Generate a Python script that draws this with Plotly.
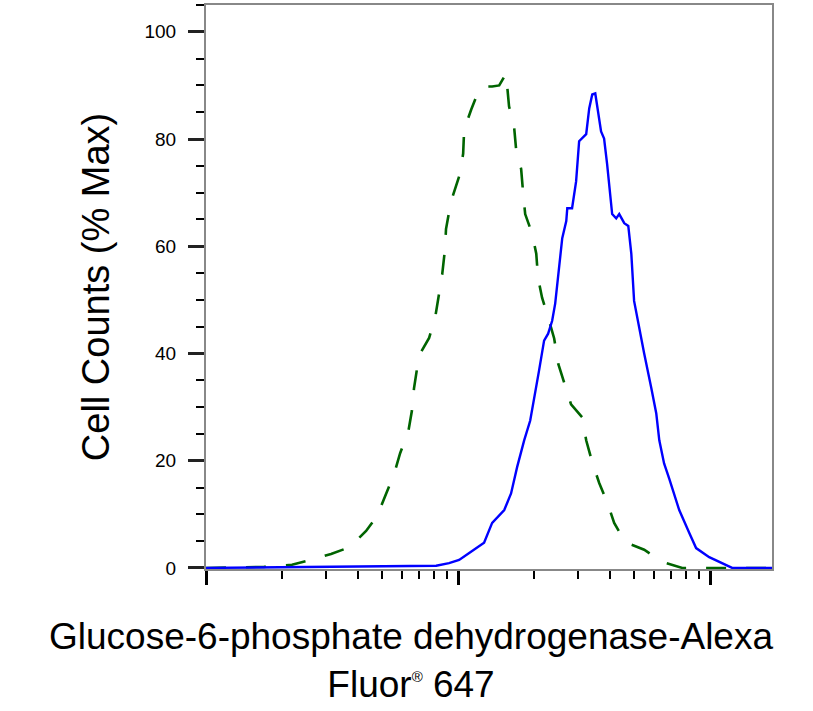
import numpy as np
import plotly.graph_objects as go

# log10 of fluorescence intensity
blue_log = [2.0, 2.913, 2.964, 3.004, 3.044, 3.083, 3.103, 3.135, 3.183, 3.210, 3.234, 3.262,
            3.286, 3.321, 3.341, 3.357, 3.373, 3.385, 3.401, 3.413, 3.429, 3.433, 3.452, 3.468,
            3.480, 3.492, 3.508, 3.520, 3.532, 3.544, 3.552, 3.567, 3.579, 3.591, 3.611, 3.627,
            3.639, 3.659, 3.675, 3.687, 3.698, 3.718, 3.738, 3.766, 3.786, 3.798, 3.817, 3.837,
            3.877, 3.917, 3.944, 3.996, 4.048, 4.087, 4.245]
blue_pct = [0, 0.4, 0.9, 1.5, 2.8, 4.1, 4.7, 8.4, 10.8, 13.9, 18.8, 23.8,
            27.5, 36.8, 42.4, 43.7, 46.1, 49.3, 56.7, 61.5, 64.7, 67.1, 67.1, 72.1,
            79.6, 80.1, 80.9, 85.7, 88.3, 88.5, 85.7, 81.4, 80.1, 75.3, 66.0, 65.2,
            66.0, 64.3, 63.8, 58.6, 49.8, 44.8, 40.0, 33.6, 28.8, 23.8, 19.5, 16.7,
            10.8, 6.5, 3.7, 2.0, 0.9, 0, 0]

green_log = [2.0, 2.230, 2.341, 2.417, 2.496, 2.571, 2.635, 2.679, 2.714, 2.746, 2.770, 2.802,
             2.817, 2.825, 2.845, 2.885, 2.909, 2.925, 2.937, 2.948, 2.952, 2.972, 3.008, 3.020,
             3.024, 3.052, 3.083, 3.111, 3.135, 3.163, 3.190, 3.202, 3.222, 3.230, 3.250, 3.258,
             3.266, 3.294, 3.310, 3.317, 3.333, 3.361, 3.381, 3.397, 3.421, 3.448, 3.492, 3.508,
             3.532, 3.560, 3.591, 3.619, 3.663, 3.738, 3.810, 3.889, 4.245]
green_pct = [0, 0.2, 0.6, 1.5, 2.6, 3.9, 6.9, 9.7, 13.8, 17.5, 21.4, 25.3,
             29.4, 33.5, 39.6, 42.9, 46.7, 51.3, 54.8, 59.5, 63.2, 68.4, 73.6, 77.3,
             81.8, 85.5, 89.2, 89.8, 89.8, 90.0, 92.2, 86.1, 82.3, 78.1, 74.4, 69.9,
             66.0, 62.3, 58.6, 54.1, 50.4, 46.1, 42.8, 38.1, 34.4, 30.5, 28.1, 23.8,
             19.7, 15.8, 12.3, 8.4, 4.8, 3.4, 1.1, 0, 0]

fig = go.Figure()
fig.add_trace(go.Scatter(x=10 ** np.array(green_log), y=green_pct, mode="lines",
                         line=dict(color="#006400", width=2.6, dash="20px,20px"),
                         showlegend=False))
fig.add_trace(go.Scatter(x=10 ** np.array(blue_log), y=blue_pct, mode="lines",
                         line=dict(color="#0000ff", width=2.4),
                         showlegend=False))

fig.update_layout(
    width=813, height=711,
    margin=dict(l=206, r=41, t=3, b=142),
    paper_bgcolor="white", plot_bgcolor="white",
    font=dict(family="Liberation Sans, Arial", color="black"),
)
fig.update_xaxes(type="log", range=[2, 4.245], showgrid=False, zeroline=False,
                 showline=True, linecolor="#888888", linewidth=2, mirror=True,
                 ticks="outside", ticklen=14, tickwidth=3, tickcolor="black",
                 dtick=1, showticklabels=False, layer="below traces",
                 minor=dict(ticks="outside", ticklen=8, tickwidth=2, tickcolor="black",
                            dtick="D1", showgrid=False))
fig.update_yaxes(range=[-0.2, 105], showgrid=False, zeroline=False,
                 showline=True, linecolor="#888888", linewidth=2, mirror=True,
                 ticks="outside", ticklen=16, tickwidth=3, tickcolor="#222222",
                 dtick=20, tickfont=dict(size=19), ticklabelstandoff=8,
                 layer="below traces",
                 minor=dict(ticks="outside", ticklen=8, tickwidth=2, tickcolor="black",
                            dtick=5, showgrid=False))

fig.add_annotation(text="Cell Counts (% Max)", textangle=-90, showarrow=False,
                   xref="paper", yref="paper", x=-0.194, y=0.5, xanchor="center", yanchor="middle",
                   font=dict(size=38))
fig.add_annotation(text="Glucose-6-phosphate dehydrogenase-Alexa<br>Fluor<sup><span style='font-size:15px'>®</span></sup> 647",
                   showarrow=False, xref="paper", yref="paper",
                   x=(411 - 206) / 566, y=-0.08, xanchor="center", yanchor="top",
                   font=dict(size=37))

fig.write_html("out.html", config={"displayModeBar": False},
               post_script="document.body.style.margin='0';")
